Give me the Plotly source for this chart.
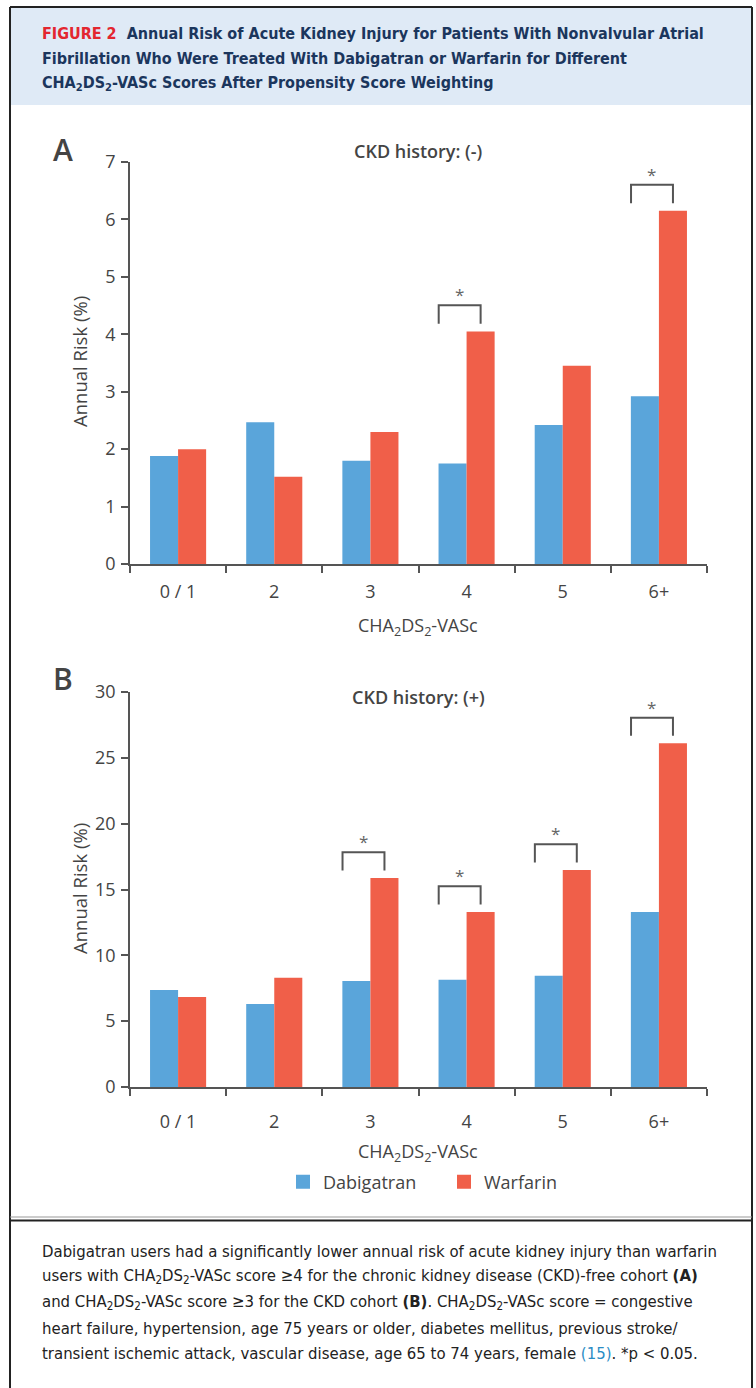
import plotly.graph_objects as go

# ---------------- data ----------------
categories = ["0 / 1", "2", "3", "4", "5", "6+"]
dabigatran_A = [1.88, 2.47, 1.80, 1.75, 2.42, 2.92]
warfarin_A = [2.00, 1.52, 2.30, 4.05, 3.45, 6.15]
dabigatran_B = [7.37, 6.30, 8.05, 8.15, 8.45, 13.30]
warfarin_B = [6.83, 8.30, 15.87, 13.30, 16.48, 26.10]
significant_A = ["4", "6+"]
significant_B = ["3", "4", "5", "6+"]
y_ticks_A = [0, 1, 2, 3, 4, 5, 6, 7]
y_ticks_B = [0, 5, 10, 15, 20, 25, 30]
series_names = ["Dabigatran", "Warfarin"]

# ---------------- styles ----------------
W, H = 756, 1388
BLUE = "#5aa5da"
RED = "#f05f49"
AXIS = "#555555"
TXT = "#444444"
NAVY = "#1b365d"
FIG_RED = "#e3262f"
CHART_FONT = "Open Sans, Noto Sans, sans-serif"
COND_FONT = "Liberation Sans Narrow, DejaVu Sans Condensed, sans-serif"


def px(x):
    return x / W


def py(y):
    return 1 - y / H


fig = go.Figure()

panels = [
    ("x", "y", dabigatran_A, warfarin_A, significant_A, 7),
    ("x2", "y2", dabigatran_B, warfarin_B, significant_B, 30),
]

for xa, ya, dab, war, sig, ymax in panels:
    fig.add_trace(go.Bar(x=categories, y=dab, name=series_names[0], marker_color=BLUE,
                         marker_line_width=0, xaxis=xa, yaxis=ya, showlegend=False,
                         offsetgroup="d"))
    fig.add_trace(go.Bar(x=categories, y=war, name=series_names[1], marker_color=RED,
                         marker_line_width=0, xaxis=xa, yaxis=ya, showlegend=False,
                         offsetgroup="w"))
    # significance brackets
    for cat in sig:
        i = categories.index(cat)
        top = max(dab[i], war[i]) + 0.065 * ymax
        bot = top - 0.046 * ymax
        x0, x1 = i - 0.29, i + 0.146
        fig.add_shape(type="path",
                      path=f"M {x0},{bot} L {x0},{top} L {x1},{top} L {x1},{bot}",
                      xref=xa, yref=ya, line=dict(color=AXIS, width=2))
        fig.add_annotation(x=(x0 + x1) / 2, y=top, xref=xa, yref=ya, text="*",
                           showarrow=False, yanchor="bottom", yshift=-3,
                           font=dict(family=CHART_FONT, size=17, color="#666666"))

# legend proxies
for name, col in zip(series_names, [BLUE, RED]):
    fig.add_trace(go.Scatter(x=[None], y=[None], mode="markers", name=name,
                             marker=dict(symbol="square", size=14, color=col),
                             xaxis="x2", yaxis="y2"))

axis_common = dict(showline=True, linecolor=AXIS, linewidth=1.5, ticks="outside",
                   ticklen=7, tickwidth=1.5, tickcolor=AXIS, showgrid=False,
                   zeroline=False, automargin=False,
                   tickfont=dict(family=CHART_FONT, size=18, color=TXT))

x_dom = [px(130), px(707)]
fig.update_layout(
    width=W, height=H,
    margin=dict(l=0, r=0, t=0, b=0, autoexpand=False),
    paper_bgcolor="white", plot_bgcolor="white",
    barmode="group", bargap=0.4167, bargroupgap=0,
    xaxis=dict(domain=x_dom, anchor="y", type="category", range=[-0.5, 5.5],
               tickson="boundaries", ticklabelstandoff=11, **axis_common),
    yaxis=dict(domain=[py(564), py(162)], anchor="x", range=[0, 7],
               tickvals=y_ticks_A, ticklabelstandoff=2, **axis_common),
    xaxis2=dict(domain=x_dom, anchor="y2", type="category", range=[-0.5, 5.5],
                tickson="boundaries", ticklabelstandoff=18, **axis_common),
    yaxis2=dict(domain=[py(1087), py(692)], anchor="x2", range=[0, 30],
                tickvals=y_ticks_B, ticklabelstandoff=2, **axis_common),
    legend=dict(orientation="h", x=px(283), xanchor="left", y=py(1182), yanchor="middle",
                font=dict(family=CHART_FONT, size=18, color=TXT),
                entrywidth=116, bgcolor="rgba(0,0,0,0)"),
)

# ---------------- panel texts ----------------
def ann(x, y, text, size, color=TXT, family=CHART_FONT, weight=None, xanchor="center",
        yanchor="middle", angle=0):
    f = dict(family=family, size=size, color=color)
    if weight:
        f["weight"] = weight
    fig.add_annotation(x=px(x), y=py(y), xref="paper", yref="paper", text=text,
                       showarrow=False, xanchor=xanchor, yanchor=yanchor,
                       textangle=angle, font=f)

ann(63, 149, "A", 30, weight=600)
ann(63, 678, "B", 30, weight=600)
ann(418, 151, "CKD history: (-)", 18, weight=600)
ann(418, 697, "CKD history: (+)", 18, weight=600)
ann(79, 362, "Annual Risk (%)", 18.5, angle=-90)
ann(79, 889, "Annual Risk (%)", 18.5, angle=-90)
xt = "CHA<sub>2</sub>DS<sub>2</sub>-VASc"
ann(418, 626, xt, 18)
ann(418, 1152, xt, 18)

# ---------------- header ----------------
fig.add_shape(type="rect", xref="paper", yref="paper", x0=px(10), x1=px(752),
              y0=py(105), y1=py(7), fillcolor="#dfeaf6", line_width=0, layer="below")
header_lines = [
    "<span style='color:%s'>FIGURE 2</span>  Annual Risk of Acute Kidney Injury for Patients With Nonvalvular Atrial" % FIG_RED,
    "Fibrillation Who Were Treated With Dabigatran or Warfarin for Different",
    "CHA<sub>2</sub>DS<sub>2</sub>-VASc Scores After Propensity Score Weighting",
]
for k, line in enumerate(header_lines):
    ann(40, 33 + k * 25.5, line, 16, color=NAVY, family=COND_FONT, weight=700,
        xanchor="left")

# ---------------- caption ----------------
caption_lines = [
    "Dabigatran users had a significantly lower annual risk of acute kidney injury than warfarin",
    "users with CHA<sub>2</sub>DS<sub>2</sub>-VASc score ≥4 for the chronic kidney disease (CKD)-free cohort <b>(A)</b>",
    "and CHA<sub>2</sub>DS<sub>2</sub>-VASc score ≥3 for the CKD cohort <b>(B)</b>. CHA<sub>2</sub>DS<sub>2</sub>-VASc score = congestive",
    "heart failure, hypertension, age 75 years or older, diabetes mellitus, previous stroke/",
    "transient ischemic attack, vascular disease, age 65 to 74 years, female <span style='color:#2b8cc4'>(15)</span>. *p &lt; 0.05.",
]
for k, line in enumerate(caption_lines):
    ann(40, 1251 + k * 25.7, line, 16.6, color="#222222", family=COND_FONT, xanchor="left")

# ---------------- frame lines ----------------
def line(x0, y0, x1, y1, color="#222222", width=2):
    fig.add_shape(type="line", xref="paper", yref="paper", x0=px(x0), y0=py(y0),
                  x1=px(x1), y1=py(y1), line=dict(color=color, width=width))

line(10, 7, 752, 7)
line(10, 7, 10, 1388)
line(752, 7, 752, 1388)
line(10, 1217, 752, 1217, color="#999999", width=1)
line(10, 1220.5, 752, 1220.5, width=2)

fig.write_html("out.html", config={"displayModeBar": False},
               post_script="document.body.style.margin='0';document.body.style.overflow='hidden';")
